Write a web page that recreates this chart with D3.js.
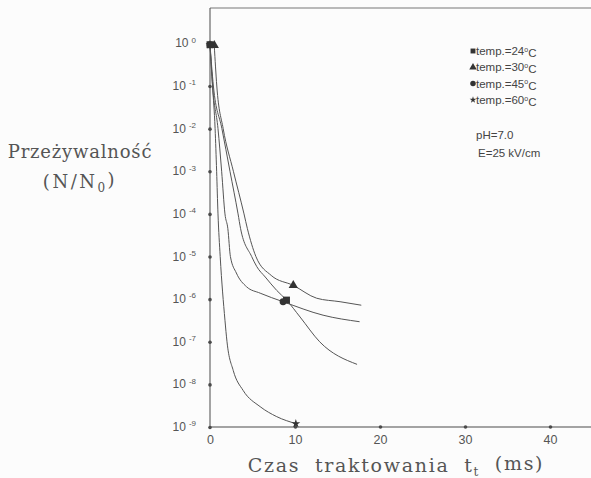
<!DOCTYPE html>
<html>
<head>
<meta charset="utf-8">
<script src="https://cdn.jsdelivr.net/npm/d3@7"></script>
<style>
  body { margin: 0; background: #fcfcfc; }
  svg { display: block; }
</style>
</head>
<body>
<svg id="chart" width="591" height="478"></svg>
<script>
// survival N/N0 vs treatment time (ms)
const t24 = [0, 0.4, 1.4, 2.35, 3.3, 3.6, 4.9, 5.5, 6.5, 7.85, 9.0, 10.6, 12.9, 17.3];
const s24 = [0.93, 1e-1, 1e-2, 1e-3, 1e-4, 4.5e-5, 1e-5, 5.8e-6, 3.3e-6, 1.6e-6, 9.5e-7, 3.8e-7, 1e-7, 2.95e-8];
const t30 = [0.5, 0.8, 1.55, 2.75, 4.0, 4.4, 5.4, 7.2, 9.8, 12.55, 15.3, 17.8];
const s30 = [0.9, 1e-1, 1e-2, 1e-3, 1e-4, 4.5e-5, 1e-5, 3.6e-6, 2.1e-6, 1.05e-6, 8.7e-7, 7.2e-7];
const t45 = [0, 0.3, 0.94, 1.37, 1.76, 2.1, 2.4, 3.1, 4.3, 5.9, 8.6, 13.3, 17.6];
const s45 = [0.93, 1e-1, 1e-2, 1e-3, 1e-4, 4.5e-5, 1e-5, 4.1e-6, 1.95e-6, 1.38e-6, 8.7e-7, 4.2e-7, 2.95e-7];
const t60 = [0, 0.3, 0.6, 0.78, 0.94, 1.2, 1.76, 2.0, 2.74, 3.9, 5.9, 7.85, 10.1];
const s60 = [0.93, 1e-1, 1e-2, 1e-3, 1e-4, 1e-5, 3.2e-7, 1e-7, 2.1e-8, 7.2e-9, 3e-9, 1.75e-9, 1.2e-9];

const seriesNames = ["temp.=24", "temp.=30", "temp.=45", "temp.=60"];
const markIdx = [10, 8, 10, 12];   // which point carries the second symbol
const yTicks = [1, 1e-1, 1e-2, 1e-3, 1e-4, 1e-5, 1e-6, 1e-7, 1e-8, 1e-9];
const xTicks = [0, 10, 20, 30, 40];
const notes = ["pH=7.0", "E=25 kV/cm"];

const series = [[t24, s24], [t30, s30], [t45, s45], [t60, s60]].map(([t, s], i) =>
  ({name: seriesNames[i], pts: t.map((d, j) => ({x: d, y: s[j]})), mark: markIdx[i], sym: i}));

const ink = "#4a4a4a";
const svg = d3.select("#chart");
const x = d3.scaleLinear([0, 45], [210, 592.5]);
const y = d3.scaleLog([1e-9, Math.pow(10, 0.83)], [427, 8]);

const symbols = [d3.symbolSquare, d3.symbolTriangle, d3.symbolCircle, d3.symbolStar];
const symSize = [48, 38, 38, 24];

// frame: top line
svg.append("line").attr("x1", 210).attr("x2", 591).attr("y1", 8).attr("y2", 8)
  .attr("stroke", "#777").attr("stroke-width", 1);

// left axis
const gy = svg.append("g").attr("transform", "translate(210,0)")
  .call(d3.axisLeft(y).tickValues(yTicks).tickSize(0).tickPadding(14).tickFormat(""));
gy.select(".domain").attr("stroke", ink).attr("d", `M0,8V427`);
gy.selectAll(".tick").each(function(d) {
  const g = d3.select(this);
  const txt = g.select("text").attr("fill", "#555").attr("font-family", "Liberation Sans, Arial, sans-serif")
    .attr("font-size", 12).attr("dy", "0.3em");
  txt.append("tspan").text("10");
  txt.append("tspan").attr("dy", "-0.6em").attr("dx", "3").attr("font-size", 8).text(Math.round(Math.log10(d)));
  g.append("circle").attr("r", 1.8).attr("fill", ink);
});

// bottom axis
const gx = svg.append("g").attr("transform", "translate(0,427)")
  .call(d3.axisBottom(x).tickValues(xTicks).tickSize(0).tickPadding(8));
gx.select(".domain").attr("stroke", ink).attr("d", "M210,0H591");
gx.selectAll(".tick text").attr("fill", "#555").attr("font-family", "Liberation Sans, Arial, sans-serif")
  .attr("font-size", 12.5);
gx.selectAll(".tick").filter(d => d > 0).append("circle").attr("r", 1.8).attr("fill", ink);

// curves
const line = d3.line(d => x(d.x), d => y(d.y)).curve(d3.curveMonotoneX);
svg.append("g").selectAll("path").data(series).join("path")
  .attr("d", d => line(d.pts)).attr("fill", "none").attr("stroke", "#555").attr("stroke-width", 1);

// symbols: first point and one further point per curve
const marks = series.flatMap(s => [{p: s.pts[0], sym: s.sym}, {p: s.pts[s.mark], sym: s.sym}]);
svg.append("g").selectAll("path").data(marks).join("path")
  .attr("transform", d => `translate(${x(d.p.x)},${y(d.p.y)})`)
  .attr("d", d => d3.symbol(symbols[d.sym], symSize[d.sym])())
  .attr("fill", "#333");

// legend
const leg = svg.append("g").attr("font-family", "Liberation Sans, Arial, sans-serif")
  .attr("font-size", 11.5).attr("fill", "#444");
series.forEach((s, i) => {
  const yy = 55 + i * 16.3;
  leg.append("path").attr("transform", `translate(473,${yy - 4})`)
    .attr("d", d3.symbol(symbols[i], i === 3 ? 14 : 24)()).attr("fill", "#333");
  const t = leg.append("text").attr("x", 476).attr("y", yy);
  t.append("tspan").text(s.name);
  t.append("tspan").attr("dy", "-0.45em").attr("font-size", 7).text("o");
  t.append("tspan").attr("dy", "0.45em").text("C");
});
notes.forEach((n, i) => {
  leg.append("text").attr("x", 476 + i * 2).attr("y", 139 + i * 18).text(n);
});

// axis titles
const serif = "DejaVu Serif, Liberation Serif, serif";
svg.append("text").attr("x", 80).attr("y", 158).attr("text-anchor", "middle")
  .attr("font-family", serif).attr("font-size", 18).attr("letter-spacing", 0.8)
  .attr("fill", "#555").text("Przeżywalność");
const yt = svg.append("text").attr("x", 80).attr("y", 188).attr("text-anchor", "middle")
  .attr("font-family", serif).attr("font-size", 18).attr("letter-spacing", 2.5).attr("fill", "#555");
yt.append("tspan").text("(N/N");
yt.append("tspan").attr("font-size", 12).attr("dy", "0.3em").text("0");
yt.append("tspan").attr("dy", "-0.3em").text(")");

const xt = svg.append("text").attr("x", 396).attr("y", 472).attr("text-anchor", "middle")
  .attr("font-family", serif).attr("font-size", 19).attr("fill", "#555")
  .attr("letter-spacing", 1.7).attr("word-spacing", 7);
xt.append("tspan").text("Czas traktowania t");
xt.append("tspan").attr("font-size", 12).attr("dy", "0.35em").text("t");
xt.append("tspan").attr("dy", "-0.35em").text(" (ms)");
</script>
</body>
</html>
